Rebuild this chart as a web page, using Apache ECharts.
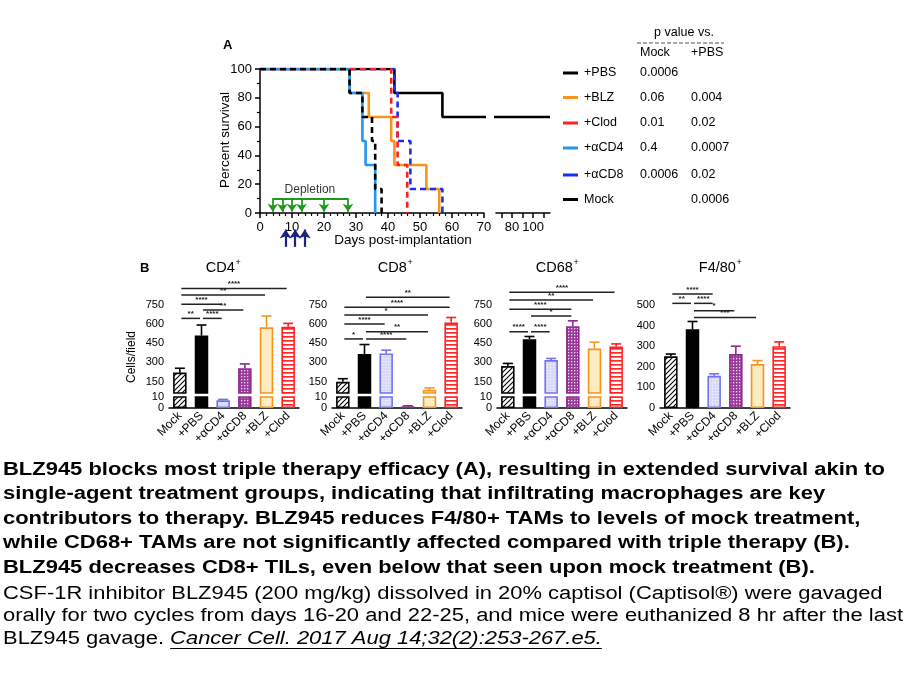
<!DOCTYPE html>
<html><head><meta charset="utf-8">
<script src="https://cdn.jsdelivr.net/npm/echarts@6.0.0/dist/echarts.min.js"></script>
<style>html,body{margin:0;padding:0;background:#fff;}#chart{width:907px;height:680px;}</style>
</head><body><div id="chart"></div>
<script>
// ---------------- Panel A: Kaplan-Meier survival ----------------
const pbsDays  = [0, 42, 57, 116];
const pbsSurv  = [100, 83.3, 66.7, 66.7];
const blzDays  = [0, 28, 34, 41, 42, 52, 56];
const blzSurv  = [100, 83.3, 66.7, 50, 33.3, 16.7, 0];
const clodDays = [0, 41, 43, 46];
const clodSurv = [100, 66.7, 33.3, 0];
const acd4Days = [0, 28, 32, 33, 36];
const acd4Surv = [100, 83.3, 50, 33.3, 0];
const acd8Days = [0, 42, 43, 47, 57];
const acd8Surv = [100, 83.3, 50, 16.7, 0];
const mockDays = [0, 28, 32, 35, 36, 38];
const mockSurv = [100, 83.3, 66.7, 50, 16.7, 0];
const depletionDays = [4, 7, 10, 13, 20, 27.5];
const treatmentDays = [8, 11, 14];
const xLabelsA2 = [80, 100];
const xTicksA2 = [70, 80, 90, 100, 110];

// p-value table
const legendNames = ['+PBS', '+BLZ', '+Clod', '+\u03B1CD4', '+\u03B1CD8', 'Mock'];
const pVsMock = ['0.0006', '0.06', '0.01', '0.4', '0.0006', ''];
const pVsPBS  = ['', '0.004', '0.02', '0.0007', '0.02', '0.0006'];

// ---------------- Panel B: cells/field ----------------
const groups = ['Mock', '+PBS', '+\u03B1CD4', '+\u03B1CD8', '+BLZ', '+Clod'];
const cd4Mean  = [220, 510, 7, 254, 575, 580];
const cd4Sem   = [34, 83, 0.8, 34, 89, 26];
const cd8Mean  = [148, 366, 370, 1.5, 85, 613];
const cd8Sem   = [24, 74, 26, 0.5, 15, 39];
const cd68Mean = [271, 482, 318, 584, 408, 424];
const cd68Sem  = [21, 21, 13, 42, 50, 21];
const f480Mean = [251, 382, 156, 262, 213, 300];
const f480Sem  = [11, 38, 10, 38, 17, 21];
const brokenTicks = [150, 300, 450, 600, 750];
// significance brackets: [from group, to group, height]
const cd4Sig   = [[0,1,645],[1,2,645],[1,3,711],[0,2,755],[0,4,828],[0,5,880]];
const cd4Stars = ['**','****','**','****','**','****'];
const cd8Sig   = [[0,1,484],[1,3,484],[1,4,541],[0,2,601],[0,4,672],[0,5,732],[1,5,810]];
const cd8Stars = ['*','****','**','****','*','****','**'];
const cd68Sig  = [[0,1,540],[1,2,540],[1,3,663],[0,3,716],[0,4,789],[0,5,850]];
const cd68Stars= ['****','****','*','****','**','****'];
const f480Sig  = [[0,1,508],[1,2,508],[1,3,472],[1,4,439],[0,2,554]];
const f480Stars= ['**','****','*','***','****'];

// caption
const capBold = [
  'BLZ945 blocks most triple therapy efficacy (A), resulting in extended survival akin to',
  'single-agent treatment groups, indicating that infiltrating macrophages are key',
  'contributors to therapy. BLZ945 reduces F4/80+ TAMs to levels of mock treatment,',
  'while CD68+ TAMs are not significantly affected compared with triple therapy (B).',
  'BLZ945 decreases CD8+ TILs, even below that seen upon mock treatment (B).'
];
const capReg = [
  'CSF-1R inhibitor BLZ945 (200 mg/kg) dissolved in 20% captisol (Captisol\u00AE) were gavaged',
  'orally for two cycles from days 16-20 and 22-25, and mice were euthanized 8 hr after the last',
  'BLZ945 gavage. '
];
const citation = 'Cancer Cell. 2017 Aug 14;32(2):253-267.e5.';

// ---------------- styles ----------------
const FF = '"Liberation Sans", Arial, Helvetica, sans-serif';
const C = {pbs:'#000000', blz:'#F7941D', clod:'#FF2020', acd4:'#2196F3', acd8:'#1530F5', mock:'#000000', green:'#1E9A1E', navy:'#1A237E'};
const legendColors = [C.pbs, C.blz, C.clod, C.acd4, C.acd8, C.mock];

function pattern(w, h, draw) {
  const c = document.createElement('canvas'); c.width = w; c.height = h;
  const x = c.getContext('2d'); draw(x, w, h);
  return {image: c, repeat: 'repeat'};
}
const patHatch = pattern(5, 5, (x) => {
  x.fillStyle = '#fff'; x.fillRect(0,0,5,5);
  x.strokeStyle = '#000'; x.lineWidth = 1.1;
  x.beginPath(); x.moveTo(-1,6); x.lineTo(6,-1); x.moveTo(-1,1); x.lineTo(1,-1); x.moveTo(4,6); x.lineTo(6,4); x.stroke();
});
const patDots = pattern(3, 3, (x) => {
  x.fillStyle = '#D9D9F7'; x.fillRect(0,0,3,3);
  x.fillStyle = '#F4F4FF'; x.fillRect(1,1,1.2,1.2);
});
const patCheck = pattern(3, 3, (x) => {
  x.fillStyle = '#9A3A9A'; x.fillRect(0,0,3,3);
  x.fillStyle = '#F2DDF2'; x.fillRect(1,1,1.3,1.3);
});
const patStripe = pattern(4, 4, (x) => {
  x.fillStyle = '#fff'; x.fillRect(0,0,4,4);
  x.fillStyle = '#FF2A2A'; x.fillRect(0,0,4,1.7);
});
const barBorder = ['#000000', '#000000', '#7272EE', '#8E2A8E', '#F7941D', '#FF2020'];
const barFill = [patHatch, '#000000', patDots, patCheck, '#FFECC0', patStripe];
const barStyles = barFill.map((f, i) => ({color: f, borderColor: barBorder[i], borderWidth: 1.6}));

// ---------------- option builders ----------------
const grids = [], xAxes = [], yAxes = [], series = [], graphic = [];
function addGrid(g, x, y) {
  g.outerBoundsMode = 'none';
  grids.push(g);
  const gi = grids.length - 1;
  xAxes.push(Object.assign({gridIndex: gi}, x));
  yAxes.push(Object.assign({gridIndex: gi}, y));
  return gi;
}
const axLine = {lineStyle: {color: '#000', width: 1.5}};
const axTick = (len) => ({length: len, lineStyle: {color: '#000', width: 1.5}});

// Panel A grids
const gA1 = addGrid({left: 260, top: 69, width: 224, height: 144},
  {type: 'value', min: 0, max: 70, interval: 10, axisLine: axLine, axisTick: axTick(5),
   minorTick: {show: true, splitNumber: 5, length: 3, lineStyle: {color: '#000', width: 1.2}},
   axisLabel: {color: '#000', fontSize: 13, fontFamily: FF, margin: 8}, splitLine: {show: false}},
  {type: 'value', min: 0, max: 100, interval: 20, axisLine: axLine, axisTick: axTick(5),
   minorTick: {show: true, splitNumber: 2, length: 3, lineStyle: {color: '#000', width: 1.2}},
   axisLabel: {color: '#000', fontSize: 13, fontFamily: FF, margin: 8}, splitLine: {show: false}});
const gA2 = addGrid({left: 496, top: 69, width: 54, height: 144},
  {type: 'value', min: 65, max: 116, axisLine: axLine,
   axisTick: Object.assign(axTick(5), {customValues: xTicksA2}),
   axisLabel: {color: '#000', fontSize: 13, fontFamily: FF, margin: 8, customValues: xLabelsA2}, splitLine: {show: false}},
  {type: 'value', min: 0, max: 100, show: false});

function km(days, surv) { return days.map((d, i) => [d, surv[i]]); }
function kmSeries(g, days, surv, color, dashed, z) {
  return {type: 'line', xAxisIndex: g, yAxisIndex: g, data: km(days, surv), step: 'end', symbol: 'none',
    clip: true, z: z, silent: true, animation: false,
    lineStyle: {color: color, width: 2.6, type: dashed ? [6, 4] : 'solid', cap: 'butt'}};
}
series.push(kmSeries(gA1, pbsDays, pbsSurv, C.pbs, false, 2));
series.push(kmSeries(gA2, pbsDays, pbsSurv, C.pbs, false, 2));
series.push(kmSeries(gA1, blzDays, blzSurv, C.blz, false, 2));
series.push(kmSeries(gA1, acd4Days, acd4Surv, C.acd4, false, 2));
series.push(kmSeries(gA1, acd8Days, acd8Surv, C.acd8, true, 3));
series.push(kmSeries(gA1, clodDays, clodSurv, C.clod, true, 3));
series.push(kmSeries(gA1, mockDays, mockSurv, C.mock, true, 3));

// depletion arrows
series.push({type: 'lines', coordinateSystem: 'cartesian2d', xAxisIndex: gA1, yAxisIndex: gA1, clip: false, z: 4,
  symbol: 'none', lineStyle: {color: C.green, width: 1.8, opacity: 1},
  data: [{coords: [[depletionDays[0], 10.2], [depletionDays[depletionDays.length - 1], 10.2]]}]});
series.push({type: 'lines', coordinateSystem: 'cartesian2d', xAxisIndex: gA1, yAxisIndex: gA1, clip: false, z: 4,
  symbol: ['none', 'arrow'], symbolSize: [1, 8], lineStyle: {color: C.green, width: 1.8, opacity: 1},
  data: depletionDays.map(d => ({coords: [[d, 10.2], [d, 0.8]]}))});
series.push({type: 'lines', coordinateSystem: 'cartesian2d', xAxisIndex: gA1, yAxisIndex: gA1, clip: false, z: 4,
  symbol: ['none', 'arrow'], symbolSize: [1, 9], lineStyle: {color: C.navy, width: 2.2, opacity: 1},
  data: treatmentDays.map(d => ({coords: [[d, -23.5], [d, -11.5]]}))});
series.push({type: 'scatter', xAxisIndex: gA1, yAxisIndex: gA1, symbolSize: 0, silent: true, z: 5,
  data: [[15.6, 16.5]],
  label: {show: true, position: 'inside', formatter: 'Depletion', color: '#000', fontSize: 12, fontFamily: FF}});

// Panel B
function errSeries(g, mean, sem) {
  return {type: 'custom', xAxisIndex: g, yAxisIndex: g, clip: true, z: 3, silent: true,
    data: mean.map((m, i) => [i, m, m + sem[i]]), encode: {x: 0, y: [1, 2]},
    renderItem: (params, api) => {
      const i = api.value(0);
      const p1 = api.coord([i, api.value(1)]);
      const p2 = api.coord([i, api.value(2)]);
      const c = barBorder[i];
      return {type: 'group', children: [
        {type: 'line', shape: {x1: p1[0], y1: p1[1], x2: p2[0], y2: p2[1]}, style: {stroke: c, lineWidth: 1.6}},
        {type: 'line', shape: {x1: p2[0] - 5, y1: p2[1], x2: p2[0] + 5, y2: p2[1]}, style: {stroke: c, lineWidth: 1.6}}
      ]};
    }};
}
function barSeries(g, mean) {
  return {type: 'bar', xAxisIndex: g, yAxisIndex: g, barWidth: 13.5, clip: true, z: 2, silent: true, animation: false,
    data: mean.map((m, i) => ({value: m, itemStyle: barStyles[i]}))};
}
function sigSeries(g, sig, stars) {
  return {type: 'custom', xAxisIndex: g, yAxisIndex: g, clip: false, z: 4, silent: true, data: sig,
    renderItem: (params, api) => {
      const a = api.coord([api.value(0), api.value(2)]);
      const b = api.coord([api.value(1), api.value(2)]);
      const x1 = a[0] + 1.5, x2 = b[0] - 1.5, y = a[1];
      return {type: 'group', children: [
        {type: 'line', shape: {x1: x1, y1: y, x2: x2, y2: y}, style: {stroke: '#222', lineWidth: 1.5}},
        {type: 'text', style: {text: stars[params.dataIndex], x: (x1 + x2) / 2, y: y - 0.5,
          align: 'center', textAlign: 'center', verticalAlign: 'bottom', textVerticalAlign: 'bottom',
          fill: '#222', font: 'bold 8px ' + FF}}
      ]};
    }};
}
const catLabel = {color: '#000', fontSize: 12, fontFamily: FF, rotate: 45, margin: 6, interval: 0};
const valLabel = {color: '#000', fontSize: 11, fontFamily: FF, margin: 5};
function buildPanel(left, mean, sem, sig, stars, broken) {
  const W = 130;
  let sg;
  if (broken) {
    const up = addGrid({left: left, top: 305, width: W, height: 88},
      {type: 'category', data: groups, show: false},
      {type: 'value', min: 60, max: 750, axisLine: axLine,
       axisTick: Object.assign(axTick(4), {customValues: brokenTicks}),
       axisLabel: Object.assign({customValues: brokenTicks}, valLabel), splitLine: {show: false}});
    const lo = addGrid({left: left, top: 397, width: W, height: 11},
      {type: 'category', data: groups, axisLine: axLine, axisTick: Object.assign(axTick(3), {alignWithLabel: true}), axisLabel: catLabel},
      {type: 'value', min: 0, max: 10, interval: 10, axisLine: axLine, axisTick: axTick(4), axisLabel: valLabel, splitLine: {show: false}});
    [up, lo].forEach(g => { series.push(barSeries(g, mean)); series.push(errSeries(g, mean, sem)); });
    sg = up;
  } else {
    const g = addGrid({left: left, top: 305, width: W, height: 103},
      {type: 'category', data: groups, axisLine: axLine, axisTick: Object.assign(axTick(3), {alignWithLabel: true}), axisLabel: catLabel},
      {type: 'value', min: 0, max: 500, interval: 100, axisLine: axLine, axisTick: axTick(4), axisLabel: valLabel, splitLine: {show: false}});
    series.push(barSeries(g, mean)); series.push(errSeries(g, mean, sem));
    sg = g;
  }
  series.push(sigSeries(sg, sig, stars));
}
buildPanel(169, cd4Mean, cd4Sem, cd4Sig, cd4Stars, true);
buildPanel(332, cd8Mean, cd8Sem, cd8Sig, cd8Stars, true);
buildPanel(497, cd68Mean, cd68Sem, cd68Sig, cd68Stars, true);
buildPanel(660, f480Mean, f480Sem, f480Sig, f480Stars, false);

// ---------------- text ----------------
const mctx = document.createElement('canvas').getContext('2d');
function measure(t, font) { mctx.font = font; return mctx.measureText(t).width; }
function T(x, y, text, font, extra, styleExtra) {
  graphic.push(Object.assign({type: 'text', x: x, y: y, silent: true,
    style: Object.assign({text: text, font: font, fill: '#000', align: 'left', textAlign: 'left',
      verticalAlign: 'middle', textVerticalAlign: 'middle'}, styleExtra || {})}, extra || {}));
}
function L(x1, y1, x2, y2, stroke, w, dash) {
  graphic.push({type: 'line', silent: true, shape: {x1: x1, y1: y1, x2: x2, y2: y2},
    style: {stroke: stroke, lineWidth: w, lineDash: dash || null}});
}
// panel labels
T(223, 45, 'A', 'bold 13px ' + FF);
T(140, 268, 'B', 'bold 13px ' + FF);
T(225, 140, 'Percent survival', '13.5px ' + FF, {rotation: Math.PI / 2}, {align: 'center', textAlign: 'center'});
T(403, 240, 'Days post-implantation', '13.5px ' + FF, {}, {align: 'center', textAlign: 'center'});
T(132, 357, 'Cells/field', '12px ' + FF, {rotation: Math.PI / 2}, {align: 'center', textAlign: 'center'});
// legend / p-value table
T(684, 33, 'p value vs.', '12.5px ' + FF, {}, {align: 'center', textAlign: 'center'});
L(637, 43, 724, 43, '#8a8a8a', 1.5, [4, 2]);
T(640, 53, 'Mock', '12.5px ' + FF);
T(691, 53, '+PBS', '12.5px ' + FF);
const rowY = [73, 97.5, 123, 148, 175, 199.5];
legendNames.forEach((n, i) => {
  L(563, rowY[i], 578, rowY[i], legendColors[i], 3);
  T(584, rowY[i], n, '12.5px ' + FF);
  if (pVsMock[i]) T(640, rowY[i], pVsMock[i], '12.5px ' + FF);
  if (pVsPBS[i]) T(691, rowY[i], pVsPBS[i], '12.5px ' + FF);
});
// panel B titles with superscript +
function title(cx, y, main) {
  const f = '14.5px ' + FF, fs = '9px ' + FF;
  const w = measure(main, f), ws = measure('+', fs);
  const x0 = cx - (w + ws) / 2;
  T(x0, y, main, f);
  T(x0 + w + 0.5, y - 5, '+', fs);
}
title(223, 268, 'CD4');
title(395, 268, 'CD8');
title(557, 268, 'CD68');
title(720, 268, 'F4/80');
// caption
const bFont = 'bold 18px ' + FF, rFont = '18px ' + FF, iFont = 'italic 18px ' + FF;
const sxB = 882 / measure(capBold[0], bFont);
const sxR = 900 / measure(capReg[1], rFont);
const capY = [470, 494.5, 519, 543.5, 568.5];
capBold.forEach((t, i) => T(3, capY[i], t, bFont, {scaleX: sxB}));
const regY = [594, 616.5, 639];
capReg.forEach((t, i) => T(3, regY[i], t, rFont, {scaleX: sxR}));
const citeX = 3 + sxR * measure(capReg[2], rFont);
T(citeX, regY[2], citation, iFont, {scaleX: sxR});
const citeW = sxR * measure(citation, iFont);
L(citeX, regY[2] + 9.5, citeX + citeW, regY[2] + 9.5, '#000', 1);

const chart = echarts.init(document.getElementById('chart'), null, {renderer: 'canvas'});
chart.setOption({
  animation: false,
  backgroundColor: '#fff',
  textStyle: {fontFamily: FF, color: '#000'},
  grid: grids, xAxis: xAxes, yAxis: yAxes, series: series, graphic: graphic
});
</script></body></html>
